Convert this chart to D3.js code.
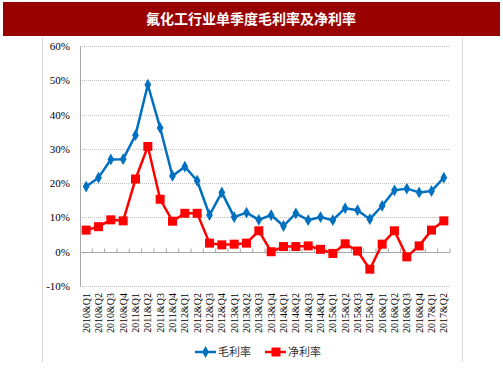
<!DOCTYPE html>
<html>
<head>
<meta charset="utf-8">
<script src="https://cdn.jsdelivr.net/npm/d3@7"></script>
<style>
  body { margin: 0; background: #fff; }
  svg { display: block; }
</style>
</head>
<body>
<div id="chart"></div>
<script>
// data
var quarters = ["2010&Q1","2010&Q2","2010&Q3","2010&Q4","2011&Q1","2011&Q2","2011&Q3","2011&Q4",
  "2012&Q1","2012&Q2","2012&Q3","2012&Q4","2013&Q1","2013&Q2","2013&Q3","2013&Q4",
  "2014&Q1","2014&Q2","2014&Q3","2014&Q4","2015&Q1","2015&Q2","2015&Q3","2015&Q4",
  "2016&Q1","2016&Q2","2016&Q3","2016&Q4","2017&Q1","2017&Q2"];
var grossMargin = [19.0, 21.6, 26.9, 27.0, 34.0, 48.7, 36.1, 22.1, 24.8, 20.7,
  10.7, 17.3, 10.1, 11.4, 9.3, 10.7, 7.5, 11.2, 9.2, 10.1,
  9.2, 12.7, 12.1, 9.5, 13.4, 17.9, 18.4, 17.3, 17.7, 21.6];
var netMargin = [6.3, 7.3, 9.3, 9.0, 21.2, 30.7, 15.3, 8.9, 11.2, 11.2,
  2.5, 2.0, 2.2, 2.5, 6.1, 0.0, 1.5, 1.5, 1.7, 0.7,
  -0.5, 2.3, 0.2, -5.1, 2.2, 6.1, -1.5, 1.7, 6.3, 9.0];
var yTicks = [-10, 0, 10, 20, 30, 40, 50, 60];
var seriesNames = ["毛利率", "净利率"];
var title = "氟化工行业单季度毛利率及净利率";

var svgWidth = 503, svgHeight = 378;
var margin = { top: 46, left: 80, right: 53, bottom: 92 };
var width = svgWidth - margin.left - margin.right;
var height = svgHeight - margin.top - margin.bottom;

var svg = d3.select("#chart").append("svg")
  .attr("width", svgWidth)
  .attr("height", svgHeight);

// title bar
svg.append("rect")
  .attr("x", 3).attr("y", 2)
  .attr("width", 497).attr("height", 34)
  .attr("fill", "#990000");
svg.append("text")
  .attr("x", 251).attr("y", 24)
  .attr("text-anchor", "middle")
  .attr("fill", "#fff")
  .style("font-family", "'Noto Sans CJK SC', sans-serif")
  .style("font-size", "14px")
  .style("font-weight", "bold")
  .text(title);

// side frame lines
[42.5, 462.5].forEach(function(x) {
  svg.append("line")
    .attr("x1", x).attr("x2", x)
    .attr("y1", 37).attr("y2", 362)
    .attr("stroke", "#d9d9d9");
});

var chartGroup = svg.append("g")
  .attr("transform", `translate(${margin.left}, ${margin.top})`);

var xScale = d3.scaleBand()
  .domain(quarters)
  .range([0, width]);

var yScale = d3.scaleLinear()
  .domain([-10, 60])
  .range([height, 0]);

// gridlines
chartGroup.selectAll(".grid")
  .data(yTicks.filter(d => d !== 0))
  .enter()
  .append("line")
  .attr("x1", 0).attr("x2", width)
  .attr("y1", d => Math.round(yScale(d)) + 0.5)
  .attr("y2", d => Math.round(yScale(d)) + 0.5)
  .attr("stroke", "#bfbfbf")
  .attr("stroke-dasharray", "1,1");

// y axis
var leftAxis = d3.axisLeft(yScale)
  .tickValues(yTicks)
  .tickSize(0)
  .tickPadding(10)
  .tickFormat(d => d + "%");
var yAxis = chartGroup.append("g").call(leftAxis);
yAxis.select(".domain").attr("stroke", "#a6a6a6");
yAxis.selectAll("text")
  .style("font-family", "'Liberation Serif', serif")
  .style("font-size", "11px")
  .attr("fill", "#000");

// zero line with category ticks
var y0 = Math.round(yScale(0)) + 0.5;
chartGroup.append("line")
  .attr("x1", 0).attr("x2", width)
  .attr("y1", y0).attr("y2", y0)
  .attr("stroke", "#a6a6a6");
chartGroup.selectAll(".ctick")
  .data(quarters)
  .enter()
  .append("line")
  .attr("x1", d => xScale(d) + xScale.bandwidth())
  .attr("x2", d => xScale(d) + xScale.bandwidth())
  .attr("y1", y0).attr("y2", y0 - 4)
  .attr("stroke", "#a6a6a6");

// x labels
chartGroup.selectAll(".xlabel")
  .data(quarters)
  .enter()
  .append("text")
  .attr("transform", d => `translate(${xScale(d) + xScale.bandwidth() / 2 + 3.5}, ${height + 7}) rotate(-90)`)
  .attr("text-anchor", "end")
  .style("font-family", "'Liberation Serif', serif")
  .style("font-size", "10px")
  .attr("fill", "#000")
  .text(d => d);

var cx = (d, i) => xScale(quarters[i]) + xScale.bandwidth() / 2;
var line = d3.line()
  .x((d, i) => cx(d, i))
  .y(d => yScale(d));

// gross margin
chartGroup.append("path")
  .datum(grossMargin)
  .attr("fill", "none")
  .attr("stroke", "#0070c0")
  .attr("stroke-width", 2.5)
  .attr("stroke-linejoin", "round")
  .attr("d", line);
var diamond = d3.symbol().type(d3.symbolDiamond).size(40);
chartGroup.selectAll(".gm")
  .data(grossMargin)
  .enter()
  .append("path")
  .attr("d", diamond)
  .attr("transform", (d, i) => `translate(${cx(d, i)}, ${yScale(d)})`)
  .attr("fill", "#0070c0");

// net margin
chartGroup.append("path")
  .datum(netMargin)
  .attr("fill", "none")
  .attr("stroke", "#ff0000")
  .attr("stroke-width", 2.5)
  .attr("stroke-linejoin", "round")
  .attr("d", line);
chartGroup.selectAll(".nm")
  .data(netMargin)
  .enter()
  .append("rect")
  .attr("x", (d, i) => cx(d, i) - 4.5)
  .attr("y", d => yScale(d) - 4.5)
  .attr("width", 9).attr("height", 9)
  .attr("fill", "#ff0000");

// legend
var legend = svg.append("g").attr("transform", "translate(195, 352)");
legend.append("line")
  .attr("x1", 0).attr("x2", 21).attr("y1", 0).attr("y2", 0)
  .attr("stroke", "#0070c0").attr("stroke-width", 2.5);
legend.append("path")
  .attr("d", diamond)
  .attr("transform", "translate(10.5, 0)")
  .attr("fill", "#0070c0");
legend.append("text")
  .attr("x", 23).attr("y", 4)
  .style("font-family", "'Noto Sans CJK SC', sans-serif")
  .style("font-size", "11px")
  .attr("fill", "#333")
  .text(seriesNames[0]);
legend.append("line")
  .attr("x1", 70).attr("x2", 91).attr("y1", 0).attr("y2", 0)
  .attr("stroke", "#ff0000").attr("stroke-width", 2.5);
legend.append("rect")
  .attr("x", 76.5).attr("y", -4.5)
  .attr("width", 9).attr("height", 9)
  .attr("fill", "#ff0000");
legend.append("text")
  .attr("x", 93).attr("y", 4)
  .style("font-family", "'Noto Sans CJK SC', sans-serif")
  .style("font-size", "11px")
  .attr("fill", "#333")
  .text(seriesNames[1]);
</script>
</body>
</html>
